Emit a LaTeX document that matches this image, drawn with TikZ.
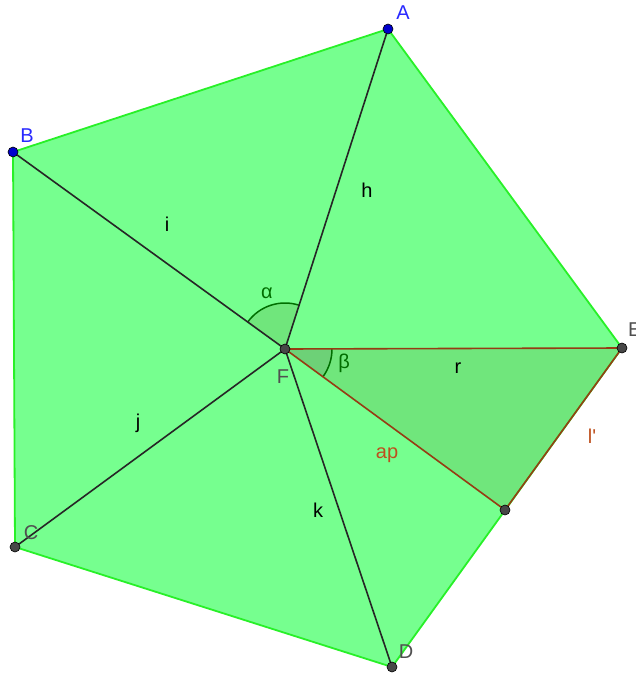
\documentclass[tikz,border=0pt]{standalone}
\usepackage{fontspec}
\setmainfont{Liberation Sans}
\begin{document}
\begin{tikzpicture}[x=1pt,y=-1pt,
  edge/.style={draw=pedge, line width=1.8pt},
  seg/.style={draw=black!85, line width=1.6pt},
  brn/.style={draw=brc, line width=1.6pt},
  pt/.style={circle, fill=black!72, draw=black, line width=0.6pt, inner sep=0pt, minimum size=10pt},
  ptb/.style={circle, fill=blue!80!black, draw=black, line width=0.6pt, inner sep=0pt, minimum size=10pt},
  lbl/.style={font=\fontsize{20}{20}\selectfont, inner sep=0pt},
  ]
\definecolor{pfill}{RGB}{118,255,143}
\definecolor{tfill}{RGB}{112,230,124}
\definecolor{pedge}{RGB}{40,240,40}
\definecolor{angc}{RGB}{0,110,0}
\definecolor{brc}{RGB}{150,60,20}
\definecolor{lbrc}{RGB}{190,80,30}
\definecolor{ptl}{RGB}{80,80,80}
\definecolor{bluel}{RGB}{40,40,255}
\useasboundingbox (0,0) rectangle (636,674);
\coordinate (A) at (388,29);
\coordinate (B) at (13,152);
\coordinate (C) at (15,547);
\coordinate (D) at (392,667);
\coordinate (E) at (622,348);
\coordinate (F) at (285,349);
\coordinate (M) at (505,510);
% pentagon
\fill[pfill] (A) -- (B) -- (C) -- (D) -- (E) -- cycle;
% triangle F E M
\fill[tfill] (F) -- (E) -- (M) -- cycle;
% angle alpha
\fill[tfill] (F) -- ++(-144.1:46) arc[start angle=-144.1, end angle=-72.2, radius=46] -- cycle;
\draw[angc, line width=1.5pt] (F) ++(-144.1:46) arc[start angle=-144.1, end angle=-72.2, radius=46];
% angle beta
\fill[tfill!90!black!95] (F) -- ++(-0.17:47) arc[start angle=-0.17, end angle=36.2, radius=47] -- cycle;
\draw[angc, line width=1.5pt] (F) ++(-0.17:47) arc[start angle=-0.17, end angle=36.2, radius=47];
% pentagon edges
\draw[edge, line join=round] (A) -- (B) -- (C) -- (D) -- (E) -- cycle;
% segments
\draw[seg] (F) -- (A);
\draw[seg] (F) -- (B);
\draw[seg] (F) -- (C);
\draw[seg] (F) -- (D);
\draw[brn] (F) -- (E);
\draw[brn] (F) -- (M);
\draw[brn] (E) -- (M);
% points
\node[ptb] (pA) at (A) {};
\node[ptb] (pB) at (B) {};
\node[pt] (pC) at (C) {};
\node[pt] (pD) at (D) {};
\node[pt] (pE) at (E) {};
\node[pt] (pF) at (F) {};
\node[pt] (pM) at (M) {};
% labels
\node[lbl, text=bluel] (lA) at (403,13) {A};
\node[lbl, text=bluel] (lB) at (27,136) {B};
\node[lbl, text=ptl] (lC) at (31,533) {C};
\node[lbl, text=ptl] (lD) at (406,652) {D};
\node[lbl, text=ptl, anchor=west] (lE) at (628,330) {E};
\node[lbl, text=ptl] (lF) at (283,377) {F};
\node[lbl] (lh) at (367,190) {h};
\node[lbl] (li) at (167,224) {i};
\node[lbl] (lj) at (138,423) {j};
\node[lbl] (lk) at (318,510) {k};
\node[lbl] (lr) at (458,368) {r};
\node[lbl, text=lbrc] (lap) at (387,455) {ap};
\node[lbl, text=lbrc] (ll) at (592,436) {l\textquotesingle};
\node[lbl, text=angc] (la) at (267,293) {α};
\node[lbl, text=angc] (lb) at (344,363) {β};
\end{tikzpicture}
\end{document}
